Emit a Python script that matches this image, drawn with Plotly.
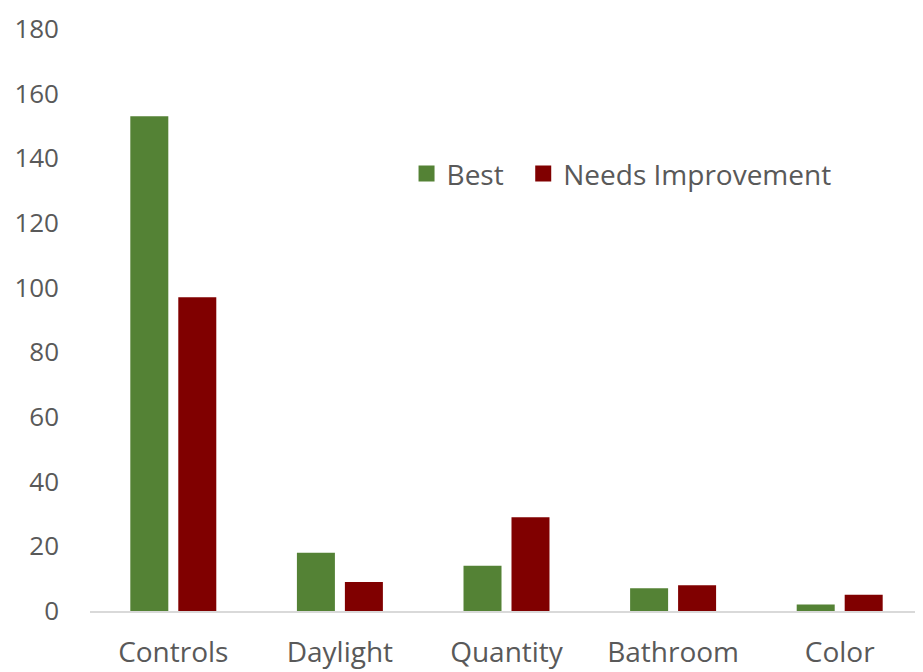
import plotly.graph_objects as go

categories = ["Controls", "Daylight", "Quantity", "Bathroom", "Color"]
best = [153, 18, 14, 7, 2]
needs_improvement = [97, 9, 29, 8, 5]
y_ticks = [0, 20, 40, 60, 80, 100, 120, 140, 160, 180]
series_names = ["Best", "Needs Improvement"]

FONT = "Open Sans"
TXT = "#595959"
GREEN = "#548235"
RED = "#800000"

fig = go.Figure()
fig.add_trace(go.Bar(name=series_names[0], x=categories, y=best, showlegend=False,
                     marker=dict(color=GREEN, line=dict(width=0))))
fig.add_trace(go.Bar(name=series_names[1], x=categories, y=needs_improvement,
                     showlegend=False,
                     marker=dict(color=RED, line=dict(width=0))))
# legend entries with larger square swatches
pad = "\u00a0\u00a0"
for nm, col in [(series_names[0] + pad, GREEN), (series_names[1], RED)]:
    fig.add_trace(go.Scatter(name=nm, x=[None], y=[None], mode="markers",
                             marker=dict(symbol="square", size=18, color=col),
                             showlegend=True))

# the page has an 8px body margin, so the figure is sized to fit inside it
fig.update_layout(
    width=915, height=664,
    margin=dict(l=82, r=0, t=21, b=61),
    paper_bgcolor="white", plot_bgcolor="white",
    barmode="group", bargap=0.424, bargroupgap=0.208,
    font=dict(family=FONT, size=26, color=TXT),
    showlegend=True,
    legend=dict(orientation="h", x=0.38, xanchor="left", y=0.751, yanchor="middle",
                font=dict(family=FONT, size=28, color=TXT),
                bgcolor="rgba(0,0,0,0)", itemwidth=30, traceorder="normal"),
    xaxis=dict(showline=True, linecolor="#d9d9d9", linewidth=1.5, showgrid=False,
               ticks="", ticklabelstandoff=16, tickfont=dict(size=28, color=TXT),
               zeroline=False, automargin=False),
    yaxis=dict(range=[0, 180], tickvals=y_ticks, showgrid=False, zeroline=False,
               showline=False, ticks="", ticklabelstandoff=30, automargin=False,
               tickfont=dict(size=26, color=TXT)),
)

fig.write_html("out.html")
